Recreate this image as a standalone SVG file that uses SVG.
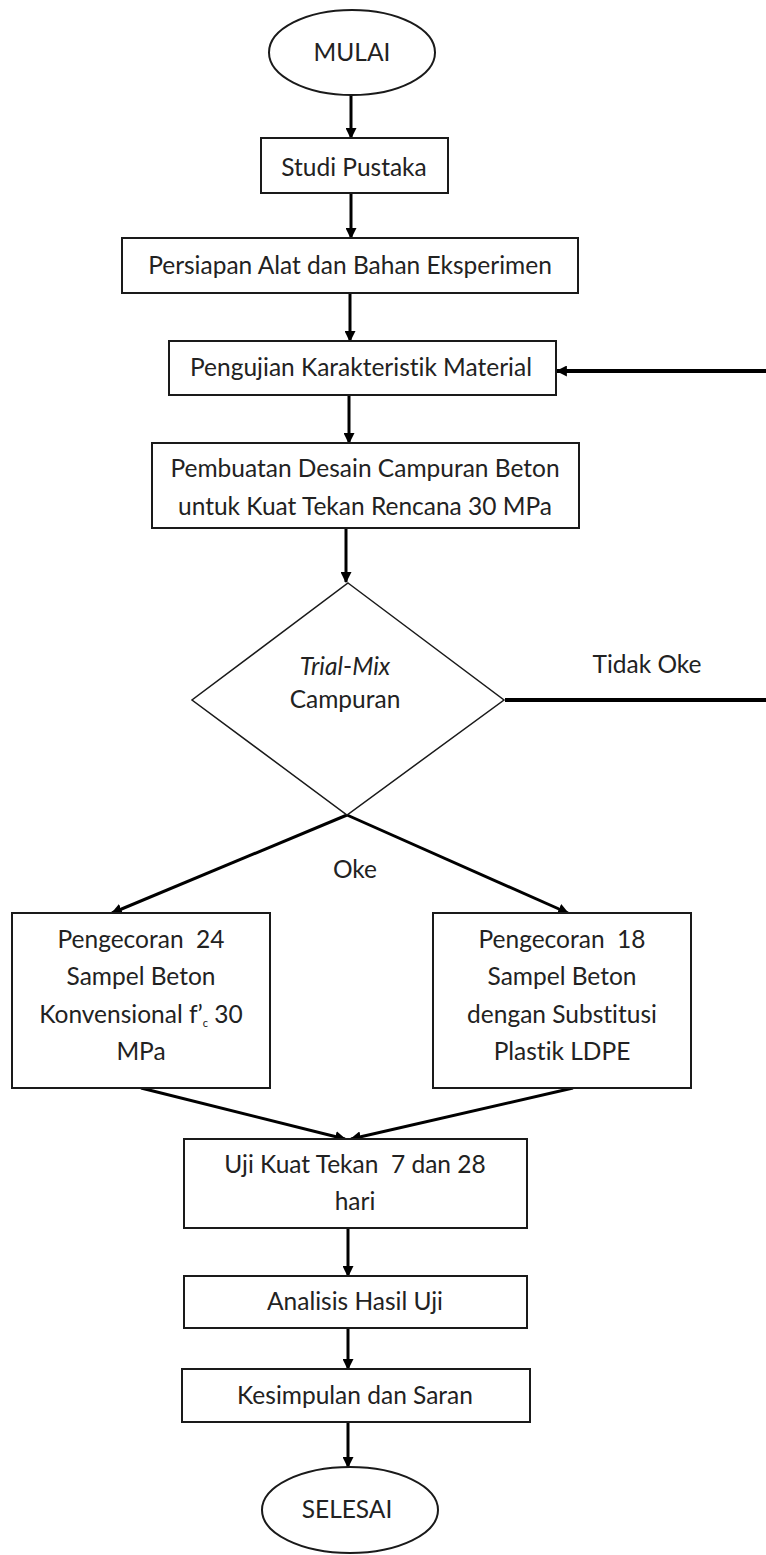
<svg xmlns="http://www.w3.org/2000/svg" width="766" height="1555" viewBox="0 0 766 1555">
<style>
.bg{fill:#ffffff}
.box{fill:#ffffff;stroke:#1a1a1a;stroke-width:2}
.dia{fill:#ffffff;stroke:#1a1a1a;stroke-width:1.5}
.t{font-family:Lato,"Liberation Sans",sans-serif;font-size:24.5px;fill:#222;text-anchor:middle;white-space:pre;font-variant-ligatures:none}
.it{font-style:italic}
.arr{fill:none;stroke:#000;stroke-width:3;marker-end:url(#ah)}
.fb{fill:none;stroke:#000;stroke-width:4;marker-end:url(#ah)}
</style>
<defs>
<marker id="ah" viewBox="0 0 10 10" refX="9" refY="5" markerWidth="11" markerHeight="11" markerUnits="userSpaceOnUse" orient="auto">
<path d="M0,0 L10,5 L0,10 z" fill="#000"/>
</marker>
</defs>
<rect class="bg" x="0" y="0" width="766" height="1555"/>
<g id="connectors">
<line class="arr" x1="351" y1="95" x2="351" y2="138"/>
<line class="arr" x1="351" y1="193" x2="351" y2="238"/>
<line class="arr" x1="350" y1="293" x2="350" y2="341"/>
<line class="arr" x1="349" y1="395" x2="349" y2="443"/>
<line class="arr" x1="346" y1="528" x2="346" y2="582"/>
<polyline class="fb" points="505,700 772,700 772,371 557,371"/>
<line class="arr" x1="347" y1="815" x2="112" y2="913"/>
<line class="arr" x1="347" y1="815" x2="568" y2="913"/>
<line class="arr" x1="141" y1="1088" x2="345" y2="1139"/>
<line class="arr" x1="573" y1="1088" x2="351" y2="1139"/>
<line class="arr" x1="348" y1="1228" x2="348" y2="1276"/>
<line class="arr" x1="348" y1="1328" x2="348" y2="1369"/>
<line class="arr" x1="348" y1="1422" x2="348" y2="1467"/>
<text class="t" x="647" y="673">Tidak Oke</text>
<text class="t" x="355" y="878">Oke</text>
</g>
<g id="mulai">
<ellipse class="box" cx="352" cy="52.5" rx="83" ry="42.5"/>
<text class="t" x="352" y="61">MULAI</text>
</g>
<g id="studi">
<rect class="box" x="261" y="138" width="187" height="55"/>
<text class="t" x="354" y="176">Studi Pustaka</text>
</g>
<g id="persiapan">
<rect class="box" x="122" y="238" width="456" height="55"/>
<text class="t" x="350" y="274">Persiapan Alat dan Bahan Eksperimen</text>
</g>
<g id="pengujian">
<rect class="box" x="169" y="341" width="387" height="54"/>
<text class="t" x="361" y="376">Pengujian Karakteristik Material</text>
</g>
<g id="pembuatan">
<rect class="box" x="152" y="443" width="427" height="85"/>
<text class="t" x="365" y="477">Pembuatan Desain Campuran Beton</text>
<text class="t" x="365" y="515">untuk Kuat Tekan Rencana 30 MPa</text>
</g>
<g id="trialmix">
<polygon class="dia" points="348,583 504,700 347,815 192,700"/>
<text class="t" x="345" y="675"><tspan class="it">Trial</tspan>-<tspan class="it">Mix</tspan></text>
<text class="t" x="345" y="708">Campuran</text>
</g>
<g id="konvensional">
<rect class="box" x="12" y="913" width="258" height="175"/>
<text class="t" x="141" y="948">Pengecoran  24</text>
<text class="t" x="141" y="985">Sampel Beton</text>
<text class="t" x="141" y="1023">Konvensional f’<tspan font-size="11" dy="4">c</tspan><tspan dy="-4"> 30</tspan></text>
<text class="t" x="141" y="1060">MPa</text>
</g>
<g id="ldpe">
<rect class="box" x="433" y="913" width="258" height="175"/>
<text class="t" x="562" y="948">Pengecoran  18</text>
<text class="t" x="562" y="985">Sampel Beton</text>
<text class="t" x="562" y="1023">dengan Substitusi</text>
<text class="t" x="562" y="1060">Plastik LDPE</text>
</g>
<g id="uji">
<rect class="box" x="184" y="1139" width="343" height="89"/>
<text class="t" x="355" y="1173">Uji Kuat Tekan  7 dan 28</text>
<text class="t" x="355" y="1210">hari</text>
</g>
<g id="analisis">
<rect class="box" x="184" y="1276" width="343" height="52"/>
<text class="t" x="355" y="1310">Analisis Hasil Uji</text>
</g>
<g id="kesimpulan">
<rect class="box" x="182" y="1369" width="348" height="53"/>
<text class="t" x="355" y="1404">Kesimpulan dan Saran</text>
</g>
<g id="selesai">
<ellipse class="box" cx="350" cy="1510" rx="88" ry="43"/>
<text class="t" x="347" y="1518">SELESAI</text>
</g>
</svg>
